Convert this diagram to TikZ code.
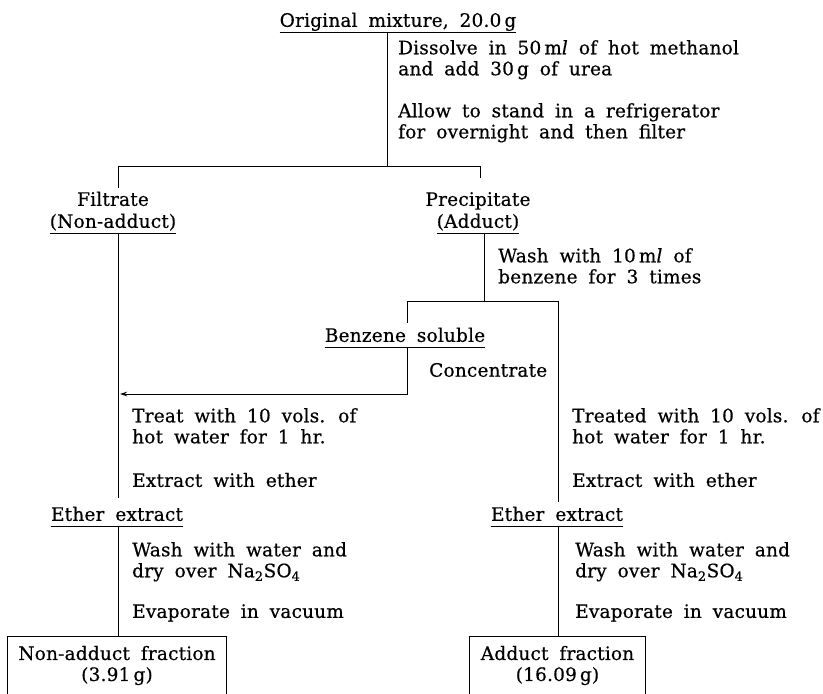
\documentclass[tikz,border=0pt]{standalone}
\usepackage{fontspec}
\setmainfont{DejaVu Serif}[LetterSpace=1, WordSpace=1.8, FakeBold=0.5]
\usetikzlibrary{arrows.meta}

\begin{document}
\begin{tikzpicture}[
    x=1pt, y=-1pt,
    every node/.style = {font=\fontsize{18.5}{21}\selectfont, inner sep=0pt},
    tag/.style        = {anchor=south, text depth=5pt},
    stepnote/.style   = {align=left, anchor=north west},
    stepline/.style   = {anchor=west},
    fraction/.style   = {align=center, minimum height=57pt},
    flow/.style       = {line width=0.9pt},
    feed/.style       = {flow, -{Stealth[length=7pt, width=4.5pt]}}
  ]
    \useasboundingbox (0,0) rectangle (823,694);

    %% ---- Original mixture and urea treatment ----
    \node[tag] (orig) at (398,32) {Original mixture, 20.0\,g};
    \draw[flow] (orig.south west) -- (orig.south east);

    \node[stepnote] (dissolve) at (398,40) {Dissolve in 50\,m\textit{l} of hot methanol\\and add 30\,g of urea};
    \node[stepnote] (allow) at (398,103) {Allow to stand in a refrigerator\\for overnight and then filter};

    \coordinate (split1) at (387,166);
    \coordinate (fork1L) at (118,188);
    \coordinate (fork1R) at (480,178);
    \draw[flow] (orig.south -| split1) -- (split1);
    \draw[flow] (fork1L) -- (fork1L |- split1) -- (fork1R |- split1) -- (fork1R);

    %% ---- Filtrate and precipitate ----
    \node[tag] (filt)   at (113,211) {Filtrate};
    \node[tag] (nonadd) at (113,233) {(Non-adduct)};
    \draw[flow] (nonadd.south west) -- (nonadd.south east);

    \node[tag] (prec)   at (478,211) {Precipitate};
    \node[tag] (adduct) at (478,233) {(Adduct)};
    \draw[flow] (adduct.south west) -- (adduct.south east);

    \node[stepnote] (wash) at (498,248) {Wash with 10\,m\textit{l} of\\benzene for 3 times};

    \coordinate (split2) at (484,301);
    \coordinate (fork2L) at (407,323);
    \coordinate (fork2R) at (558,502);
    \draw[flow] (adduct.south -| split2) -- (split2);
    \draw[flow] (fork2L) -- (fork2L |- split2) -- (fork2R |- split2) -- (fork2R);

    %% ---- Benzene soluble, fed back to the filtrate ----
    \node[tag] (bsol) at (405,347) {Benzene soluble};
    \draw[flow] (bsol.south west) -- (bsol.south east);
    \node[stepline] (conc) at (429,370) {Concentrate};

    \coordinate (bend) at (407,394);
    \coordinate (tipL) at (120,394);
    \draw[feed] (bsol.south -| bend) -- (bend) -- (tipL);

    %% ---- Hot water and ether, both branches ----
    \coordinate (leftend) at (118,498);
    \draw[flow] (nonadd.south -| leftend) -- (leftend);

    \node[stepnote] (treatL) at (132,408) {Treat with 10 vols. of\\hot water for 1 hr.};
    \node[stepline] (extractL) at (132,480) {Extract with ether};
    \node[stepnote] (treatR) at (572,408) {Treated with 10 vols. of\\hot water for 1 hr.};
    \node[stepline] (extractR) at (572,480) {Extract with ether};

    \node[tag] (etherL) at (117,526) {Ether extract};
    \draw[flow] (etherL.south west) -- (etherL.south east);
    \node[tag] (etherR) at (557,526) {Ether extract};
    \draw[flow] (etherR.south west) -- (etherR.south east);

    \node[stepnote] (washL) at (132,542) {Wash with water and\\dry over Na\textsubscript{2}SO\textsubscript{4}};
    \node[stepline] (evapL) at (132,613) {Evaporate in vacuum};
    \node[stepnote] (washR) at (575,542) {Wash with water and\\dry over Na\textsubscript{2}SO\textsubscript{4}};
    \node[stepline] (evapR) at (575,613) {Evaporate in vacuum};

    %% ---- Final fractions ----
    \node[fraction, minimum width=218pt] (fracL) at (117,665.5) {Non-adduct fraction\\(3.91\,g)};
    \node[fraction, minimum width=175pt] (fracR) at (557.5,665.5) {Adduct fraction\\(16.09\,g)};

    \draw[flow] (etherL.south -| leftend) -- (fracL.north -| leftend);
    \draw[flow] (etherR.south -| fork2R) -- (fracR.north -| fork2R);

    \draw[flow] (fracL.south west) -- (fracL.north west) -- (fracL.north east) -- (fracL.south east);
    \draw[flow] (fracR.south west) -- (fracR.north west) -- (fracR.north east) -- (fracR.south east);
  \end{tikzpicture}
\end{document}
